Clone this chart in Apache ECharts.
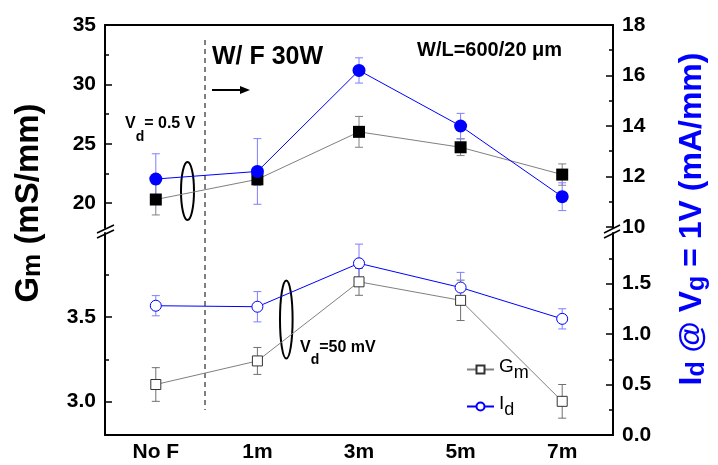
<!DOCTYPE html>
<html><head><meta charset="utf-8">
<script src="https://cdn.jsdelivr.net/npm/echarts@6/dist/echarts.min.js"></script>
<style>html,body{margin:0;padding:0;background:#fff}#c{width:718px;height:465px}</style>
</head><body><div id="c"></div>
<script>
// ---- data ----
const categories = ['No F', '1m', '3m', '5m', '7m'];
const gmHigh = [20.3, 22.0, 26.0, 24.7, 22.4];      // Vd = 0.5 V, left axis
const gmHighErr = [1.3, 0.5, 1.3, 0.7, 0.9];
const idHigh = [11.9, 12.2, 16.2, 14.0, 11.2];      // Vd = 0.5 V, right axis
const idHighErr = [1.0, 1.3, 0.5, 0.5, 0.55];
const gmLow = [3.10, 3.24, 3.71, 3.60, 3.00];       // Vd = 50 mV, left axis
const gmLowErr = [0.10, 0.08, 0.08, 0.12, 0.10];
const idLow = [1.28, 1.27, 1.70, 1.46, 1.15];       // Vd = 50 mV, right axis
const idLowErr = [0.10, 0.15, 0.19, 0.15, 0.10];
const leftTopTicks = [20, 25, 30, 35];
const leftTopMinor = [22.5, 27.5, 32.5];
const rightTopTicks = [10, 12, 14, 16, 18];
const rightTopMinor = [11, 13, 15, 17];
const leftBotTicks = [3.0, 3.5];
const leftBotMinor = [3.25, 3.75];
const rightBotTicks = [0.0, 0.5, 1.0, 1.5];
const rightBotMinor = [0.25, 0.75, 1.25, 1.75];

const FF = '"Liberation Sans", Arial, sans-serif';
const chart = echarts.init(document.getElementById('c'), null, {renderer: 'canvas'});

function errSeries(name, values, errs, xi, yi, color) {
  return {
    type: 'custom', name: name, xAxisIndex: xi, yAxisIndex: yi, z: 1, silent: true,
    encode: {x: 0, y: 1},
    data: values.map((v, i) => [i, v, errs[i]]),
    renderItem: function (params, api) {
      const i = api.value(0), v = api.value(1), e = api.value(2);
      const t = api.coord([i, v + e]), b = api.coord([i, v - e]);
      const w = 4;
      const st = {stroke: color, lineWidth: 1};
      return {type: 'group', children: [
        {type: 'line', shape: {x1: t[0], y1: t[1], x2: b[0], y2: b[1]}, style: st},
        {type: 'line', shape: {x1: t[0] - w, y1: t[1], x2: t[0] + w, y2: t[1]}, style: st},
        {type: 'line', shape: {x1: b[0] - w, y1: b[1], x2: b[0] + w, y2: b[1]}, style: st}
      ]};
    }
  };
}

function yAx(grid, pos, min, max, ticks, isMinor, dec) {
  return {
    type: 'value', gridIndex: grid, position: pos, min: min, max: max,
    splitLine: {show: false},
    axisLine: {show: !isMinor, lineStyle: {color: '#000', width: 2}},
    axisTick: {show: true, inside: true, length: isMinor ? 4 : 7, customValues: ticks,
      lineStyle: {color: '#000', width: 1.5}},
    axisLabel: {show: !isMinor, customValues: ticks, margin: 9,
      fontFamily: FF, fontWeight: 'bold', fontSize: 21, color: '#000',
      formatter: v => dec ? Number(v).toFixed(dec) : String(v)}
  };
}

const subRich = (size, sub, k, color, weight) => ({
  a: {fontFamily: FF, fontWeight: weight, fontSize: size, fill: color, verticalAlign: 'top', lineHeight: size},
  s: {fontFamily: FF, fontWeight: weight, fontSize: sub, fill: color, verticalAlign: 'top', padding: [k, 0, 0, 0]}
});

const option = {
  animation: false,
  backgroundColor: '#fff',
  grid: [
    {left: 105, right: 105, top: 25, height: 203},
    {left: 105, right: 105, top: 233, height: 202}
  ],
  xAxis: [
    {type: 'category', gridIndex: 0, position: 'top', data: categories,
      axisLine: {lineStyle: {color: '#000', width: 2}},
      axisTick: {inside: true, alignWithLabel: true, length: 8, lineStyle: {color: '#000', width: 1.5}},
      axisLabel: {show: false}},
    {type: 'category', gridIndex: 1, position: 'bottom', data: categories,
      axisLine: {lineStyle: {color: '#000', width: 2}},
      axisTick: {inside: true, alignWithLabel: true, length: 8, lineStyle: {color: '#000', width: 1.5}},
      axisLabel: {margin: 7, fontFamily: FF, fontWeight: 'bold', fontSize: 21, color: '#000'}}
  ],
  yAxis: [
    yAx(0, 'left', 17.9, 35, leftTopTicks, false, 0),
    yAx(0, 'right', 9.96, 18, rightTopTicks, false, 0),
    yAx(1, 'left', 2.8, 4.0, leftBotTicks, false, 1),
    yAx(1, 'right', 0, 2.0, rightBotTicks, false, 1),
    yAx(0, 'left', 17.9, 35, leftTopMinor, true, 0),
    yAx(0, 'right', 9.96, 18, rightTopMinor, true, 0),
    yAx(1, 'left', 2.8, 4.0, leftBotMinor, true, 1),
    yAx(1, 'right', 0, 2.0, rightBotMinor, true, 1)
  ],
  legend: {
    data: ['Gm', 'Id'], orient: 'vertical', left: 461, top: 352, itemWidth: 27, itemHeight: 10, itemGap: 12,
    selectedMode: false,
    formatter: n => n === 'Gm' ? '{a|G}{s|m}' : '{a|I}{s|d}',
    textStyle: {rich: {
      a: {fontFamily: FF, fontSize: 19, color: '#000', verticalAlign: 'top', lineHeight: 19},
      s: {fontFamily: FF, fontSize: 18, color: '#000', verticalAlign: 'top', padding: [7, 0, 0, 0]}
    }}
  },
  series: [
    errSeries('eGmH', gmHigh, gmHighErr, 0, 0, '#808080'),
    errSeries('eIdH', idHigh, idHighErr, 0, 1, '#7f7fff'),
    errSeries('eGmL', gmLow, gmLowErr, 1, 2, '#707070'),
    errSeries('eIdL', idLow, idLowErr, 1, 3, '#7f7fff'),
    {type: 'line', name: 'GmH', xAxisIndex: 0, yAxisIndex: 0, data: gmHigh, z: 3,
      symbol: 'rect', symbolSize: 12, itemStyle: {color: '#000'}, lineStyle: {color: '#808080', width: 1}},
    {type: 'line', name: 'IdH', xAxisIndex: 0, yAxisIndex: 1, data: idHigh, z: 4,
      symbol: 'circle', symbolSize: 13, itemStyle: {color: '#0000ff'}, lineStyle: {color: '#0000ff', width: 1}},
    {type: 'line', name: 'Gm', xAxisIndex: 1, yAxisIndex: 2, data: gmLow, z: 3,
      symbol: 'rect', symbolSize: 10, itemStyle: {color: '#fff', borderColor: '#333', borderWidth: 1},
      lineStyle: {color: '#808080', width: 1}},
    {type: 'line', name: 'Id', xAxisIndex: 1, yAxisIndex: 3, data: idLow, z: 4,
      symbol: 'circle', symbolSize: 11, itemStyle: {color: '#fff', borderColor: '#0000ff', borderWidth: 1},
      lineStyle: {color: '#0000ff', width: 1}}
  ],
  graphic: [
    {type: 'line', shape: {x1: 205, y1: 40, x2: 205, y2: 410}, style: {stroke: '#555', lineWidth: 1.5, lineDash: [5, 4]}},
    {type: 'line', shape: {x1: 97, y1: 233, x2: 114, y2: 225}, style: {stroke: '#000', lineWidth: 1.5}},
    {type: 'line', shape: {x1: 97, y1: 238, x2: 114, y2: 230}, style: {stroke: '#000', lineWidth: 1.5}},
    {type: 'line', shape: {x1: 604, y1: 233, x2: 620, y2: 225}, style: {stroke: '#000', lineWidth: 1.5}},
    {type: 'line', shape: {x1: 604, y1: 238, x2: 620, y2: 230}, style: {stroke: '#000', lineWidth: 1.5}},
    {type: 'ellipse', shape: {cx: 187.5, cy: 191, rx: 6.5, ry: 29}, style: {stroke: '#000', lineWidth: 2, fill: 'none'}},
    {type: 'ellipse', shape: {cx: 286.3, cy: 319.5, rx: 6.3, ry: 39}, style: {stroke: '#000', lineWidth: 2, fill: 'none'}},
    {type: 'line', shape: {x1: 212, y1: 90, x2: 242, y2: 90}, style: {stroke: '#000', lineWidth: 2}},
    {type: 'polygon', shape: {points: [[250, 90], [240, 86], [240, 94]]}, style: {fill: '#000'}},
    {type: 'text', x: 212, y: 57, style: {text: 'W/ F 30W', font: 'bold 25px ' + FF, fill: '#000',
      textAlign: 'left', textVerticalAlign: 'middle', align: 'left', verticalAlign: 'middle'}},
    {type: 'text', x: 417, y: 50.5, style: {text: 'W/L=600/20 \u03bcm', font: 'bold 20px ' + FF, fill: '#000',
      textAlign: 'left', textVerticalAlign: 'middle', align: 'left', verticalAlign: 'middle'}},
    {type: 'text', x: 125, y: 115.5, style: {text: '{a|V}{s|d}{a|= 0.5 V}', fill: '#000',
      textAlign: 'left', textVerticalAlign: 'top', align: 'left', verticalAlign: 'top',
      rich: subRich(16, 14, 15, '#000', 'bold')}},
    {type: 'text', x: 300, y: 339.5, style: {text: '{a|V}{s|d}{a|=50 mV}', fill: '#000',
      textAlign: 'left', textVerticalAlign: 'top', align: 'left', verticalAlign: 'top',
      rich: subRich(16, 14, 14, '#000', 'bold')}},
    {type: 'text', x: 29, y: 203, rotation: Math.PI / 2, style: {text: '{a|G}{s|m}{a| (mS/mm)}', fill: '#000',
      textAlign: 'center', textVerticalAlign: 'middle', align: 'center', verticalAlign: 'middle',
      rich: subRich(33, 26, 8, '#000', 'bold')}},
    {type: 'text', x: 693, y: 219, rotation: Math.PI / 2, style: {text: '{a|I}{s|d}{a| @ V}{s|g}{a| = 1V (mA/mm)}', fill: '#0000ff',
      textAlign: 'center', textVerticalAlign: 'middle', align: 'center', verticalAlign: 'middle',
      rich: subRich(32, 25, 8, '#0000ff', 'bold')}}
  ]
};
chart.setOption(option);
</script>
</body></html>
